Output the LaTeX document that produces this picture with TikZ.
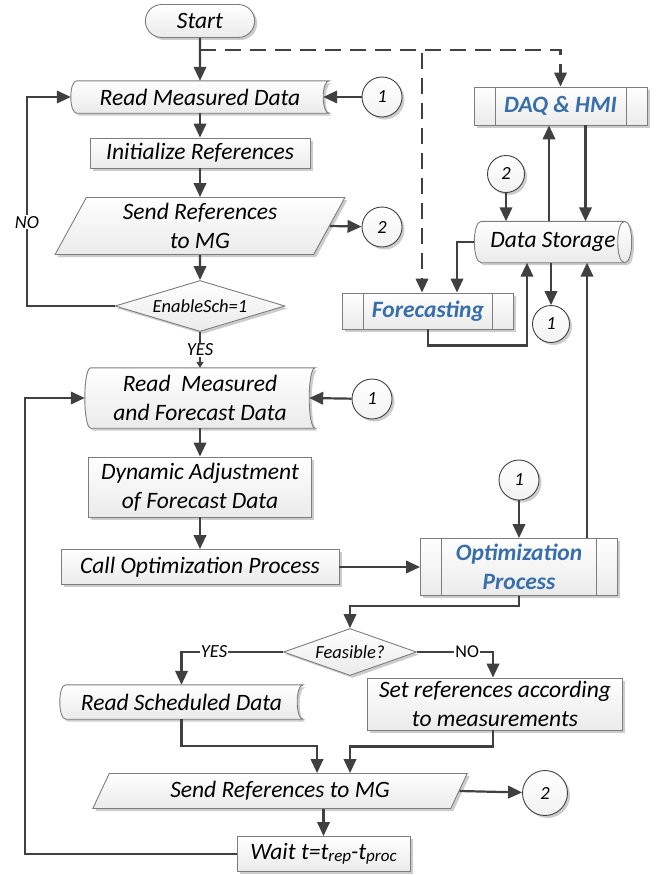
\documentclass[tikz,border=0pt]{standalone}
\usepackage{fontspec}
\setmainfont{Carlito}
\usetikzlibrary{shapes.geometric, shapes.misc, arrows.meta, backgrounds, shadows}

\definecolor{linegray}{RGB}{64,64,64}
\definecolor{boxgray}{RGB}{125,125,125}
\definecolor{procblue}{RGB}{56,111,170}

\newcommand{\flowfont}{\fontsize{23.5}{29}\selectfont\itshape}
\newcommand{\smallflow}{\fontsize{18.5}{22}\selectfont\itshape}
\newcommand{\lowsub}[1]{\raisebox{-1.5pt}{\fontsize{17}{17}\selectfont #1}}
% outline of a "stored data" box drawn round a plain node
\newcommand{\storedoutline}[1]{%
  \draw[boxgray, line width=0.9pt, top color=white, bottom color=gray!16,
        drop shadow={shadow xshift=2.5pt, shadow yshift=-2.5pt, opacity=0.2, fill=black}]
    ([xshift=6pt]#1.north west) -- (#1.north east)
    .. controls ([xshift=-8pt]#1.north east) and ([xshift=-8pt]#1.south east) .. (#1.south east)
    -- ([xshift=6pt]#1.south west)
    .. controls ([xshift=-2pt]#1.south west) and ([xshift=-2pt]#1.north west) .. ([xshift=6pt]#1.north west)
    -- cycle;}
% outline of a lying drum (direct access storage)
\newcommand{\drumoutline}[1]{%
  \draw[boxgray, line width=0.9pt, top color=white, bottom color=gray!16,
        drop shadow={shadow xshift=2.5pt, shadow yshift=-2.5pt, opacity=0.2, fill=black}]
    ([xshift=7pt]#1.north west) -- ([xshift=-7pt]#1.north east)
    .. controls ([xshift=2.3pt]#1.north east) and ([xshift=2.3pt]#1.south east) .. ([xshift=-7pt]#1.south east)
    -- ([xshift=7pt]#1.south west)
    .. controls ([xshift=-2.3pt]#1.south west) and ([xshift=-2.3pt]#1.north west) .. ([xshift=7pt]#1.north west)
    -- cycle;
  \draw[boxgray, line width=0.9pt]
    ([xshift=-7pt]#1.north east)
    .. controls ([xshift=-16.3pt]#1.north east) and ([xshift=-16.3pt]#1.south east) .. ([xshift=-7pt]#1.south east);}

\begin{document}
\begin{tikzpicture}[x=1pt, y=-1pt,
    shade/.style={drop shadow={shadow xshift=2.5pt, shadow yshift=-2.5pt, opacity=0.2, fill=black}},
    flowbox/.style={rectangle, draw=boxgray, line width=0.9pt, top color=white, bottom color=gray!16,
        shade, align=center, font=\flowfont, inner sep=2pt},
    terminal/.style={rounded rectangle, draw=boxgray, line width=0.9pt, top color=white,
        bottom color=gray!16, shade, font=\flowfont, minimum width=116pt, minimum height=33pt},
    storedtext/.style={rectangle, inner sep=0pt, align=center, font=\flowfont},
    iobox/.style={trapezium, trapezium stretches=true, draw=boxgray, line width=0.9pt,
        top color=white, bottom color=gray!16, shade, align=center, font=\flowfont, inner sep=0pt},
    decision/.style={diamond, draw=boxgray, line width=0.9pt, top color=white, bottom color=gray!16,
        shade, font=\smallflow, inner sep=0pt},
    process/.style={rectangle, draw=boxgray, line width=0.9pt, top color=white, bottom color=gray!16,
        shade, align=center, font=\flowfont\bfseries, text=procblue,
        path picture={\draw[boxgray, line width=0.9pt]
            ([xshift=21pt]path picture bounding box.north west) -- ([xshift=21pt]path picture bounding box.south west)
            ([xshift=-21pt]path picture bounding box.north east) -- ([xshift=-21pt]path picture bounding box.south east);}},
    connector/.style={circle, draw=linegray, line width=0.9pt, top color=white, bottom color=gray!10,
        shade, font=\smallflow, minimum size=40pt, inner sep=0pt},
    arr/.style={-{Triangle[length=14pt,width=12.5pt]}, line width=2.2pt, draw=linegray},
    smallarr/.style={-{Triangle[length=6pt,width=7pt]}, line width=2pt, draw=linegray},
    dasharr/.style={arr, dash pattern=on 16pt off 9pt},
    lbl/.style={fill=white, inner sep=1pt, font=\smallflow},
]
\useasboundingbox (0,0) rectangle (665,875);

% ---- first loop ----
\node (start)  [terminal] at (200,21) {Start};
\node (rmd)    [storedtext, minimum width=258pt, minimum height=32pt] at (200,97) {Read Measured Data};
\node (init)   [flowbox, minimum width=220pt, minimum height=30pt] at (200,153) {Initialize References};
\node (send1)  [iobox, minimum width=290pt, minimum height=57pt,
                trapezium left angle=65, trapezium right angle=115] at (200,226) {Send References\\to MG};
\node (enable) [decision, minimum width=170pt, minimum height=51pt, aspect=3.3] at (200,306) {EnableSch=1};
\node (c1a)    [connector] at (382,97) {1};
\node (c2a)    [connector] at (382,227) {2};

% ---- data side ----
\node (daq)  [process, minimum width=173pt, minimum height=38pt] at (560.5,106) {DAQ \& HMI};
\node (c2b)  [connector, minimum size=37pt] at (506,174) {2};
\node (ds)   [storedtext, minimum width=157pt, minimum height=41pt] at (553,242) {Data Storage};
\node (fore) [process, minimum width=171pt, minimum height=36pt] at (428,311) {Forecasting};
\node (c1b)  [connector, minimum size=37pt] at (551,324) {1};

% ---- scheduling loop ----
\node (rmfd)   [storedtext, minimum width=230pt, minimum height=60pt] at (200,398) {Read~ Measured\\and Forecast Data};
\node (c1c)    [connector] at (372,399) {1};
\node (dyn)    [flowbox, minimum width=223pt, minimum height=60pt] at (200,487) {Dynamic Adjustment\\of Forecast Data};
\node (call)   [flowbox, minimum width=278pt, minimum height=35pt] at (200,567) {Call Optimization Process};
\node (opt)    [process, minimum width=197pt, minimum height=57pt] at (519,567) {Optimization\\Process};
\node (c1d)    [connector] at (519,480) {1};
\node (feas)   [decision, minimum width=133pt, minimum height=47pt, aspect=2.8] at (350,652) {Feasible?};
\node (rsd)    [storedtext, minimum width=243pt, minimum height=34pt] at (181.5,702) {Read Scheduled Data};
\node (setref) [flowbox, minimum width=255pt, minimum height=52pt] at (495,704) {Set references according\\to measurements};
\node (send2)  [iobox, minimum width=375pt, minimum height=35pt,
                trapezium left angle=61, trapezium right angle=119] at (280,791) {Send References to MG};
\node (c2c)    [connector, minimum size=45pt] at (545,793) {2};
\node (wait)   [flowbox, minimum width=173pt, minimum height=35pt] at (323.5,854) {Wait t=t\lowsub{rep}-t\lowsub{proc}};

\begin{scope}[on background layer]
\storedoutline{rmd}
\storedoutline{rmfd}
\storedoutline{rsd}
\drumoutline{ds}
\end{scope}

\coordinate (dsplit) at (200,50);
\coordinate (loopA) at (27,0);
\coordinate (loopB) at (25,0);

% ---- first loop arrows ----
\draw[arr] (start) -- (rmd);
\draw[arr] (rmd) -- (init);
\draw[arr] (init) -- (send1);
\draw[arr] (send1) -- (enable);
\draw[arr] (c1a) -- ([xshift=-6pt]rmd.east);
\draw[arr] (send1.east) -- (c2a);
\draw[arr] (enable.west) -- (enable.west -| loopA) |- node[lbl, pos=0.2] {NO} (rmd.west);
\draw[smallarr] (enable.south) -- node[lbl] {YES} (rmfd.north);

% ---- data side arrows ----
\draw[dasharr] (dsplit) -| (daq.north);
\draw[dasharr] (dsplit) -| ([xshift=-6pt]fore.north);
\draw[arr] (c2b) -- (c2b |- ds.north);
\draw[arr] ([xshift=-4pt]ds.north) -- ([xshift=-4pt]ds.north |- daq.south);
\draw[arr] ([xshift=25pt]daq.south) -- ([xshift=25pt]daq.south |- ds.north);
\draw[arr] (ds.west) -| ([xshift=29pt]fore.north);
\draw[arr] (fore.south) -- ++(0,16) -| ([xshift=-26pt]ds.south);
\draw[arr] (ds.south -| c1b) -- (c1b);

% ---- scheduling loop arrows ----
\draw[arr] (c1c) -- ([xshift=-6pt]rmfd.east);
\draw[arr] (rmfd) -- (dyn);
\draw[arr] (dyn) -- (call);
\draw[arr] (call) -- (opt);
\draw[arr] (c1d) -- (opt);
\draw[arr] ([xshift=68pt]opt.north) -- ([xshift=68pt]opt.north |- ds.south);
\draw[arr] (opt.south) -- ++(0,10) -| (feas.north);
\draw[arr] (feas.west) -| node[lbl, pos=0.34] {YES} (rsd.north);
\draw[arr] (feas.east) -| node[lbl, pos=0.33, font=\fontsize{18}{20}\selectfont] {NO} ([xshift=-2pt]setref.north);
\draw[arr] (rsd.south) -- ++(0,27) -| ([xshift=37pt]send2.north);
\draw[arr] ([xshift=-2pt]setref.south) -- ++(0,16) -| ([xshift=70pt]send2.north);
\draw[arr] (send2.south -| wait.north) -- (wait.north);
\draw[arr] (send2.east) -- (c2c);
\draw[arr] (wait.west) -- (wait.west -| loopB) |- (rmfd.west);

\end{tikzpicture}
\end{document}
